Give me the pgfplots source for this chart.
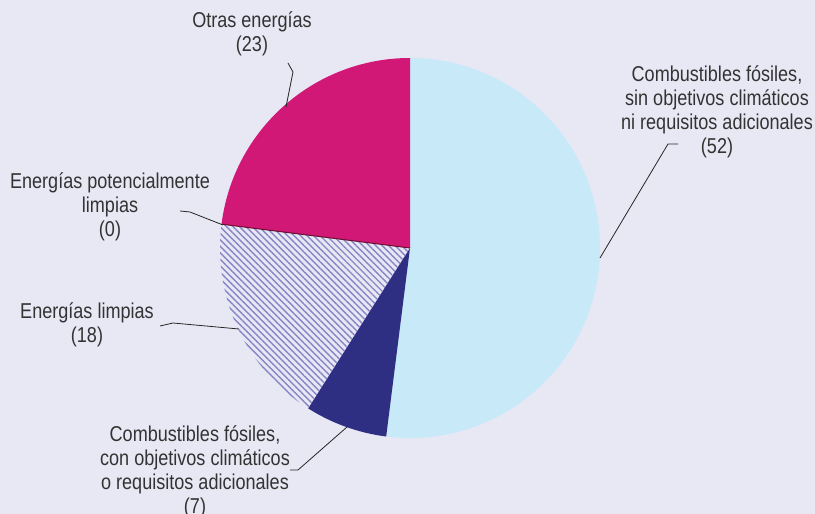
\documentclass[border=0pt]{standalone}
\usepackage{pgfplots}
\pgfplotsset{compat=1.18}
\usetikzlibrary{patterns.meta}
\usepackage{fontspec}
\setmainfont{Liberation Sans}[FakeStretch=0.84]
\definecolor{bg}{HTML}{E7E8F4}
\definecolor{lblue}{HTML}{C7E9F8}
\definecolor{navy}{HTML}{2E2F82}
\definecolor{pinkc}{HTML}{D11877}
\definecolor{hatch}{HTML}{8884C6}
\definecolor{txt}{HTML}{333333}
\definecolor{maroon}{HTML}{6A1030}
% values (percent)
\def\vA{52}\def\vB{7}\def\vC{18}\def\vD{0}\def\vE{23}
\begin{document}
\begin{tikzpicture}
\begin{axis}[
  width=815pt, height=514pt, scale only axis,
  xmin=0, xmax=815, ymin=0, ymax=514,
  hide axis,
  axis background/.style={fill=bg},
  clip=true,
]
\pgfmathsetmacro{\aA}{90}
\pgfmathsetmacro{\aB}{90-3.6*\vA}
\pgfmathsetmacro{\aC}{\aB-3.6*\vB}
\pgfmathsetmacro{\aD}{\aC-3.6*\vC}
\pgfmathsetmacro{\aE}{\aD-3.6*\vD}
\pgfmathsetmacro{\aF}{\aE-3.6*\vE}
\fill[lblue] (axis cs:410,266) -- ++(\aA:190pt) arc[start angle=\aA, end angle=\aB, radius=190pt] -- cycle;
\fill[navy] (axis cs:410,266) -- ++(\aB:190pt) arc[start angle=\aB, end angle=\aC, radius=190pt] -- cycle;
\fill[pattern={Lines[angle=-45,distance=4.6pt,line width=1.4pt]}, pattern color=hatch] (axis cs:410,266) -- ++(\aC:190pt) arc[start angle=\aC, end angle=\aD, radius=190pt] -- cycle;
\fill[pinkc] (axis cs:410,266) -- ++(\aE:190pt) arc[start angle=\aE, end angle=\aF, radius=190pt] -- cycle;
\draw[maroon, line width=1pt] (axis cs:410,266) -- ++(\aD:190pt);
% leaders
\draw[black!85, line width=0.8pt] (axis cs:288,451) -- (axis cs:293,442) -- (axis cs:286,407);
\draw[black!85, line width=0.8pt] (axis cs:180,303) -- (axis cs:190,302) -- (axis cs:223,289);
\draw[black!85, line width=0.8pt] (axis cs:160,188) -- (axis cs:173,191) -- (axis cs:239,185);
\draw[black!85, line width=0.8pt] (axis cs:290,44) -- (axis cs:298,44) -- (axis cs:347,87);
\draw[black!85, line width=0.8pt] (axis cs:678,370) -- (axis cs:668,370) -- (axis cs:600,256);
% labels
\tikzset{lab/.style={align=center, text=txt, font=\fontsize{21.5}{24}\selectfont, inner sep=0pt}}
\node[lab] at (axis cs:252,480) {Otras energías\\(23)};
\node[lab] at (axis cs:717,402) {Combustibles fósiles,\\sin objetivos climáticos\\ni requisitos adicionales\\(52)};
\node[lab] at (axis cs:110,307) {Energías potencialmente\\limpias\\(0)};
\node[lab] at (axis cs:87,189) {Energías limpias\\(18)};
\node[lab] at (axis cs:195,42) {Combustibles fósiles,\\con objetivos climáticos\\o requisitos adicionales\\(7)};
\end{axis}
\pgfresetboundingbox
\path[use as bounding box] (current axis.south west) rectangle (current axis.north east);
\end{tikzpicture}
\end{document}
